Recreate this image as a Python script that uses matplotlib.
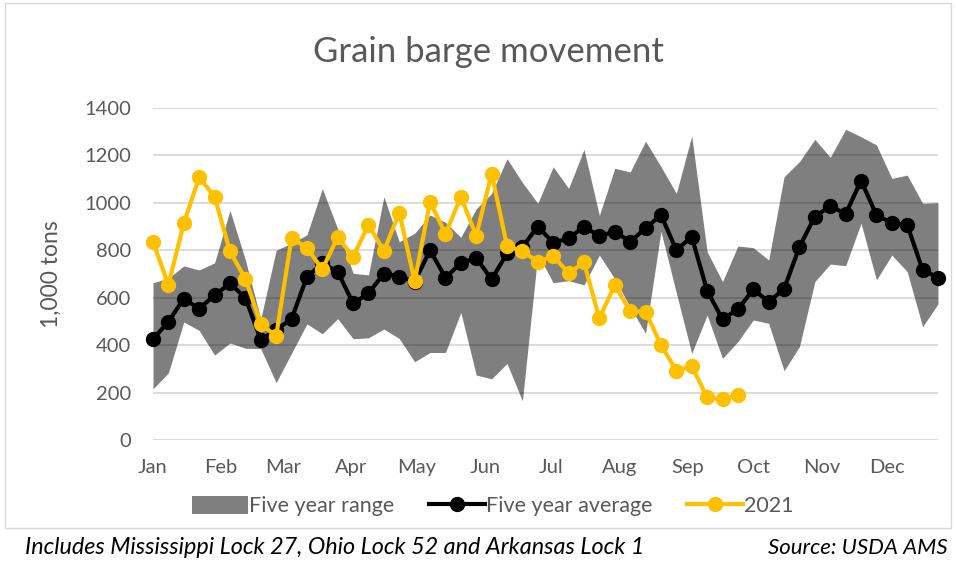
import numpy as np
import pandas as pd
import matplotlib
matplotlib.use("Agg")
import matplotlib.pyplot as plt
import matplotlib.dates as mdates
from matplotlib.patches import Rectangle

plt.rcParams['font.family'] = ['Lato', 'DejaVu Sans']

# weekly data, 1,000 tons
weeks = pd.date_range("2021-01-01", periods=52, freq="7D")

range_low = [216, 283, 498, 462, 358, 409, 387, 385, 242, 366,
             490, 448, 512, 427, 431, 468, 428, 330, 369, 369,
             538, 274, 258, 323, 165, 785, 663, 672, 654, 780,
             680, 560, 450, 880, 620, 365, 527, 344, 415, 506,
             492, 292, 394, 668, 742, 735, 914, 675, 780, 710,
             478, 574]
range_high = [663, 682, 734, 717, 747, 968, 760, 510, 800, 830,
              865, 1060, 890, 703, 696, 1026, 836, 872, 949, 918,
              855, 975, 1040, 1186, 1086, 998, 1152, 1061, 1225, 947,
              1146, 1130, 1260, 1153, 1040, 1282, 794, 668, 818, 811,
              759, 1110, 1174, 1268, 1192, 1310, 1279, 1244, 1103, 1117,
              998, 1001]
five_year_avg = [425, 499, 596, 553, 611, 660, 600, 423, 465, 510,
                 688, 745, 710, 576, 619, 702, 689, 668, 800, 685,
                 745, 768, 677, 787, 814, 900, 832, 850, 900, 860,
                 879, 836, 893, 949, 801, 857, 630, 509, 551, 635,
                 583, 637, 815, 942, 987, 953, 1094, 949, 914, 907,
                 717, 685]
y2021 = [836, 654, 914, 1108, 1026, 795, 680, 490, 438, 852,
         810, 720, 855, 773, 907, 797, 958, 670, 1005, 869,
         1025, 862, 1123, 819, 796, 752, 776, 703, 749, 513,
         654, 543, 541, 401, 292, 312, 180, 171, 190]

txt = "#595959"
grid = "#D9D9D9"

fig = plt.figure(figsize=(9.56, 5.61), dpi=100)
ax = fig.add_axes([153/956, 1 - 440/561, (938 - 153)/956, (440 - 108)/561])

ax.fill_between(weeks, range_low, range_high, color="black", alpha=0.5,
                linewidth=0, label="Five year range", zorder=2)
ax.plot(weeks, five_year_avg, color="black", lw=3, marker="o", ms=10,
        label="Five year average", zorder=3, clip_on=False)
ax.plot(weeks[:len(y2021)], y2021, color="#FFC000", lw=3, marker="o", ms=10,
        label="2021", zorder=4, clip_on=False)

ax.set_ylim(0, 1400)
ax.set_yticks(range(0, 1401, 200))
ax.set_xlim(weeks[0], weeks[-1])
ax.xaxis.set_major_locator(mdates.MonthLocator())
ax.xaxis.set_major_formatter(mdates.DateFormatter("%b"))

ax.grid(axis="y", color=grid, lw=1.3, zorder=1)
ax.set_axisbelow(True)
for s in ax.spines.values():
    s.set_visible(False)
ax.tick_params(axis="both", length=0, labelsize=14.5, labelcolor=txt)
ax.tick_params(axis="y", pad=16)
ax.tick_params(axis="x", pad=14)

ax.set_ylabel("1,000 tons", fontsize=16.5, color=txt, labelpad=16)
fig.text(488/956, 1 - 52/561, "Grain barge movement", fontsize=25,
         color=txt, ha="center", va="center")

fig.legend(loc="center", bbox_to_anchor=(493/956, 1 - 506/561), ncol=3,
           frameon=False, fontsize=15.5, labelcolor=txt, handlelength=2.6,
           handletextpad=0.05, columnspacing=1.6, handleheight=0.9)

fig.text(25/956, 1 - 548/561,
         "Includes Mississippi Lock 27, Ohio Lock 52 and Arkansas Lock 1",
         fontsize=16.8, style="italic", ha="left", va="center")
fig.text(948/956, 1 - 548/561, "Source: USDA AMS", fontsize=16,
         style="italic", ha="right", va="center")

# chart frame
fig.patches.append(Rectangle((5/956, 1 - 528/561), 946/956, 525/561,
                             transform=fig.transFigure, fill=False,
                             edgecolor=grid, lw=1))

fig.savefig("out.png", dpi=100)
